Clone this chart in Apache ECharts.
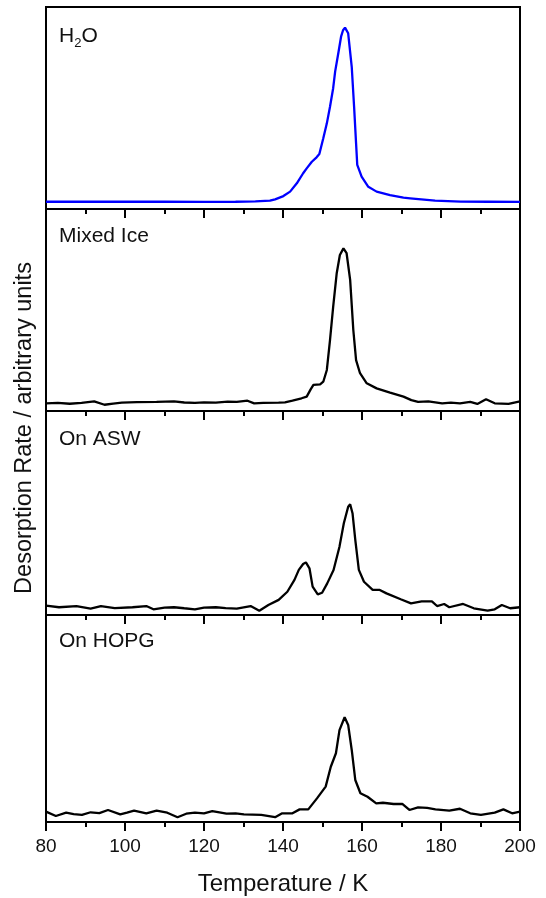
<!DOCTYPE html>
<html>
<head>
<meta charset="utf-8">
<script src="https://cdn.jsdelivr.net/npm/echarts@6/dist/echarts.min.js"></script>
<style>html,body{margin:0;padding:0;background:#fff}#c{width:546px;height:898px}</style>
</head>
<body>
<div id="c"></div>
<script>
// Temperature (K) and desorption rate (arbitrary units, 0-100 per panel)
var h2oT = [80, 90, 100, 110, 120, 128, 133, 136.7, 138.0, 140.1, 141.8, 143.5, 145.1, 146.0, 147.3, 148.5, 149.2, 150.2, 151.1, 151.9, 152.7, 153.2, 154.0, 154.7, 155.2, 155.7, 156.1, 156.5, 157.4, 158.0, 158.5, 158.8, 159.9, 161.6, 163.7, 167.1, 170.5, 172.2, 178.5, 185, 192, 200];
var h2oRate = [3.6, 3.7, 3.6, 3.6, 3.5, 3.6, 3.8, 4.1, 4.8, 6.4, 8.6, 12.7, 17.7, 20.1, 23.4, 25.6, 27.2, 35.0, 42.4, 50.6, 59.8, 68.0, 77.1, 85.3, 88.5, 89.8, 89.0, 87.0, 70.4, 50.6, 32.5, 21.8, 16.0, 11.0, 8.6, 6.9, 5.6, 5.3, 4.1, 3.7, 3.6, 3.5];

var mixedT = [80, 83, 86, 89, 92.2, 94.8, 97, 99.2, 103, 108, 112.4, 115, 117.7, 120, 123, 126, 128.3, 131, 132.7, 135, 138.9, 140.5, 142.4, 144.7, 146.0, 147.0, 147.7, 149.4, 150.2, 151.1, 151.9, 152.7, 153.6, 154.4, 155.3, 156.1, 157.0, 157.8, 158.5, 159.5, 161.2, 163.7, 167.1, 170.5, 172.5, 174.2, 176.8, 180.3, 182.5, 184.8, 187.4, 189.2, 191.4, 193.6, 197.1, 200];
var mixedRate = [3.8, 4.0, 3.6, 4.0, 4.8, 3.1, 3.7, 4.1, 4.4, 4.5, 4.8, 4.2, 4.0, 4.3, 4.1, 4.6, 4.5, 5.1, 3.8, 4.0, 4.1, 4.3, 5.1, 6.3, 7.1, 10.7, 12.9, 13.2, 14.5, 20.3, 35.1, 51.6, 68.2, 77.2, 80.5, 78.1, 64.9, 40.1, 25.2, 18.7, 13.7, 11.2, 9.1, 7.1, 5.4, 4.5, 4.8, 3.8, 4.1, 3.8, 4.5, 3.5, 5.8, 3.8, 3.5, 4.8];

var aswT = [80, 83.3, 87.7, 91.3, 93.9, 97.4, 101.9, 105.4, 107.2, 110, 112.4, 115, 117.7, 120, 123, 125.5, 128.3, 131.8, 134.0, 136.3, 138.9, 141.1, 142.9, 144.0, 145.1, 145.8, 146.7, 147.5, 148.8, 149.9, 151.2, 152.8, 154.3, 155.4, 156.5, 157.0, 157.6, 158.3, 159.2, 160.5, 162.7, 164.5, 166.2, 169.8, 172.4, 175.1, 177.7, 179.0, 180.8, 182.1, 185.6, 188.3, 191.8, 193.6, 195.4, 197.5, 200];
var aswRate = [4.6, 3.8, 4.4, 3.1, 4.4, 3.4, 3.8, 4.4, 2.8, 3.6, 3.8, 3.3, 2.8, 3.6, 3.8, 3.4, 3.1, 4.4, 2.1, 4.9, 7.4, 11.4, 17.2, 22.1, 25.0, 25.8, 22.9, 13.9, 10.1, 10.9, 15.5, 22.1, 33.5, 45.0, 53.1, 54.3, 49.9, 36.8, 22.1, 16.3, 12.3, 12.3, 10.6, 7.7, 5.7, 6.7, 6.7, 4.4, 5.4, 3.8, 5.4, 3.3, 2.1, 2.8, 4.9, 3.3, 3.8];

var hopgT = [80, 82.5, 85.1, 87, 89.1, 91.3, 93.5, 95.7, 98.8, 100.5, 102.3, 105.4, 108, 110.7, 113.3, 115.5, 117.7, 120, 122.1, 125.7, 128, 130.1, 134.5, 138.0, 139.8, 142.4, 144.2, 146.4, 148.6, 150.8, 152.1, 153.4, 154.3, 155.6, 156.5, 157.4, 158.3, 159.6, 161.4, 163.6, 165.3, 168, 170.2, 172, 174.2, 176.5, 178.6, 182.1, 184.8, 187.4, 190.1, 193.6, 195.8, 198.0, 200];
var hopgRate = [5.0, 2.9, 4.5, 3.8, 3.4, 4.7, 4.3, 5.8, 3.7, 4.5, 5.5, 4.2, 5.5, 4.5, 2.3, 4.0, 4.5, 4.2, 5.3, 4.0, 4.2, 3.7, 3.4, 2.3, 4.2, 4.2, 6.1, 6.1, 11.4, 17.1, 26.7, 33.2, 44.4, 50.6, 46.9, 34.8, 20.3, 13.9, 12.2, 9.0, 9.3, 8.7, 8.7, 5.8, 7.1, 6.8, 6.1, 5.5, 6.4, 4.2, 3.4, 4.5, 6.1, 4.2, 5.0];

var panelLabels = ['H2O', 'Mixed Ice', 'On ASW', 'On HOPG'];
var xTitle = 'Temperature / K';
var yTitle = 'Desorption Rate / arbitrary units';

var FONT = '"Liberation Sans", Arial, Helvetica, sans-serif';
var tops = [7, 209, 411, 615];
var heights = [202, 202, 204, 207];
var seriesT = [h2oT, mixedT, aswT, hopgT];
var seriesV = [h2oRate, mixedRate, aswRate, hopgRate];
var colors = ['#0000ff', '#000000', '#000000', '#000000'];

function pairs(t, v) { return t.map(function (x, i) { return [x, v[i]]; }); }

var grids = [], xAxes = [], yAxes = [], series = [];
for (var i = 0; i < 4; i++) {
  var last = i === 3;
  grids.push({ left: 46, right: 26, top: tops[i], height: heights[i], show: true,
    borderColor: '#000', borderWidth: 2, backgroundColor: 'transparent', containLabel: false });
  xAxes.push({
    type: 'value', gridIndex: i, min: 80, max: 200, interval: 20,
    axisLine: { show: true, lineStyle: { color: '#000', width: 2 } },
    axisTick: { show: true, inside: false, length: 9, lineStyle: { color: '#000', width: 2 } },
    minorTick: { show: true, splitNumber: 2, length: 5, lineStyle: { color: '#000', width: 2 } },
    splitLine: { show: false },
    axisLabel: { show: last, margin: 15, fontSize: 19, color: '#111', fontFamily: FONT },
    name: last ? xTitle : '', nameLocation: 'middle', nameGap: 50,
    nameTextStyle: { fontSize: 24, color: '#111', fontFamily: FONT }
  });
  yAxes.push({ type: 'value', gridIndex: i, min: 0, max: 100, show: false });
  series.push({
    type: 'line', xAxisIndex: i, yAxisIndex: i, data: pairs(seriesT[i], seriesV[i]),
    showSymbol: false, symbol: 'none', animation: false,
    lineStyle: { color: colors[i], width: 2.3 }
  });
}

var graphics = [
  { type: 'text', left: 59, top: 23, style: { text: '{a|H}{s|2}{a|O}', rich: {
      a: { fontSize: 21, fontFamily: FONT, fill: '#111', lineHeight: 24 },
      s: { fontSize: 13, fontFamily: FONT, fill: '#111', padding: [14, 0, 0, 0], lineHeight: 24 } } } },
  { type: 'text', x: 59, y: 236, style: { text: panelLabels[1], fontSize: 21, fontFamily: FONT, fill: '#111', verticalAlign: 'middle' } },
  { type: 'text', x: 59, y: 439, style: { text: panelLabels[2], fontSize: 21, fontFamily: FONT, fill: '#111', verticalAlign: 'middle' } },
  { type: 'text', x: 59, y: 641, style: { text: panelLabels[3], fontSize: 21, fontFamily: FONT, fill: '#111', verticalAlign: 'middle' } },
  { type: 'text', x: 25, y: 428, rotation: Math.PI / 2, style: { text: yTitle, fontSize: 23.5, fontFamily: FONT, fill: '#111', align: 'center', verticalAlign: 'middle' } }
];

var chart = echarts.init(document.getElementById('c'), null, { renderer: 'canvas' });
chart.setOption({
  animation: false,
  backgroundColor: '#fff',
  grid: grids, xAxis: xAxes, yAxis: yAxes, series: series, graphic: graphics
});
</script>
</body>
</html>
